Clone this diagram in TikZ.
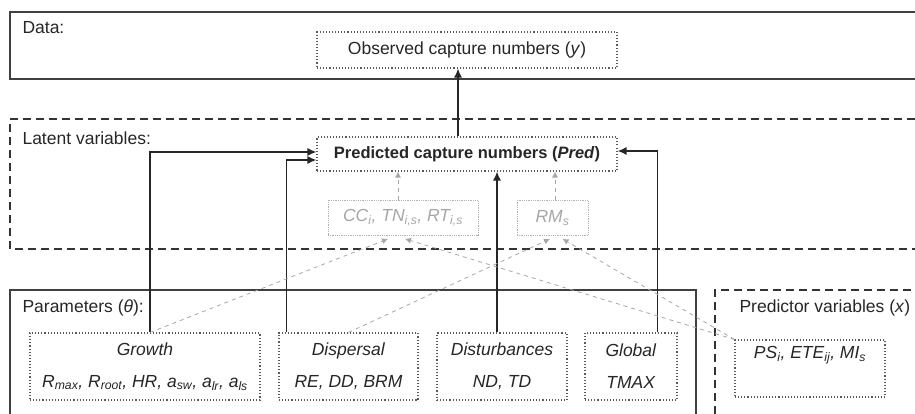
\documentclass[tikz,border=0pt]{standalone}
\usepackage{fontspec}
\setmainfont{Liberation Sans}
\usepackage{tikz}
\usetikzlibrary{positioning,arrows.meta}

\begin{document}
\begin{tikzpicture}[
    x = 1pt,
    y = -1pt,
    every node/.style={
        font = \fontsize{17.5}{32}\selectfont,
        text = black!85
    },
    plain/.style={
        draw = none,
        fill = none,
        anchor = west
    },
    frame/.style={
        draw = black!75,
        line width = 1.6pt
    },
    latentframe/.style={
        draw = black!80,
        line width = 1.6pt,
        dash pattern = on 8pt off 5pt
    },
    databox/.style={
        draw = black!65,
        dotted,
        line width = 1.1pt,
        align = center,
        inner sep = 0pt
    },
    ghostbox/.style={
        draw = black!30,
        densely dotted,
        line width = 0.8pt,
        text = black!35,
        inner sep = 0pt
    },
    link/.style={
        ->,
        draw = black!85,
        line width = 1.4pt
    },
    ghostlink/.style={
        -{Latex[length=6pt,width=6pt]},
        draw = black!35,
        line width = 0.8pt,
        dash pattern = on 4pt off 4pt
    },
    >={Latex[length=9pt,width=8pt]}
    ]

\useasboundingbox (0,0) rectangle (915,414);

% frames
\draw[frame] (915,12) -- (10,12) -- (10,79) -- (915,79);
\draw[latentframe] (915,119) -- (10,119) -- (10,249) -- (915,249);
\draw[frame] (10,414) -- (10,290) -- (696,290) -- (696,414);
\draw[latentframe] (715,414) -- (715,290) -- (915,290);

\node[plain] (datalab) at (19,28) {Data:};
\node[plain] (latentlab) at (19,138) {Latent variables:};
\node[plain] (paramlab) at (19,308) {Parameters (\textit{θ}):};
\node[plain] (predlab) at (736,308) {Predictor variables (\textit{x})};

% boxes
\node[databox, minimum width=300, minimum height=36] (obs) at (467,50)
    {Observed capture numbers (\textit{y})};
\node[databox, minimum width=300, minimum height=34, font=\fontsize{16.5}{20}\selectfont] (pred) at (467,154)
    {\textbf{Predicted capture numbers (\textit{Pred})}};
\node[ghostbox, minimum width=150, minimum height=35] (cc) at (403,218)
    {\textit{CC\textsubscript{i}, TN\textsubscript{i,s}, RT\textsubscript{i,s}}};
\node[ghostbox, minimum width=71, minimum height=35] (rm) at (552.5,218)
    {\textit{RM\textsubscript{s}}};

\node[databox, minimum width=230, minimum height=67] (growth) at (145,366.5)
    {\textit{Growth}\\ \textit{R\textsubscript{max}, R\textsubscript{root}, HR, a\textsubscript{sw}, a\textsubscript{lr}, a\textsubscript{ls}}};
\node[databox, minimum width=139, minimum height=67] (disp) at (348.5,366.5)
    {\textit{Dispersal}\\ \textit{RE, DD, BRM}};
\node[databox, minimum width=130, minimum height=67] (dist) at (502,366.5)
    {\textit{Disturbances}\\ \textit{ND, TD}};
\node[databox, minimum width=92, minimum height=67] (glob) at (631,366.5)
    {\textit{Global}\\ \textit{TMAX}};
\node[databox, minimum width=150, minimum height=57] (ps) at (810,368.5)
    {\textit{PS\textsubscript{i}, ETE\textsubscript{ij}, MI\textsubscript{s}}\\ \mbox{}};

% parameters to predictions
\draw[link] ([xshift=5pt]growth.north) |- ([yshift=2pt]pred.west);
\draw[link] ([xshift=8pt]disp.north west) |- ([yshift=-6pt]pred.west);
\draw[link] ([xshift=-5pt]dist.north) -- ([xshift=-5pt]dist.north |- pred.south);
\draw[link] ([xshift=-20pt]glob.north east) |- ([yshift=3pt]pred.east);
\draw[link] ([xshift=-9pt]pred.north) -- ([xshift=-9pt]obs.south);

% latent links
\draw[ghostlink] ([xshift=-5pt]cc.north) -- ([xshift=-5pt]cc.north |- pred.south);
\draw[ghostlink] ([xshift=2.5pt]rm.north) -- ([xshift=2.5pt]rm.north |- pred.south);
\draw[ghostlink] ([xshift=5pt]growth.north) -- ([xshift=-15pt,yshift=-3pt]cc.south);
\draw[ghostlink] (ps.north west) -- ([xshift=2pt,yshift=-3pt]cc.south);
\draw[ghostlink] (disp.north) -- ([xshift=-2.5pt,yshift=-3pt]rm.south);
\draw[ghostlink] (ps.north west) -- ([xshift=10pt,yshift=-3pt]rm.south);
\end{tikzpicture}
\end{document}
